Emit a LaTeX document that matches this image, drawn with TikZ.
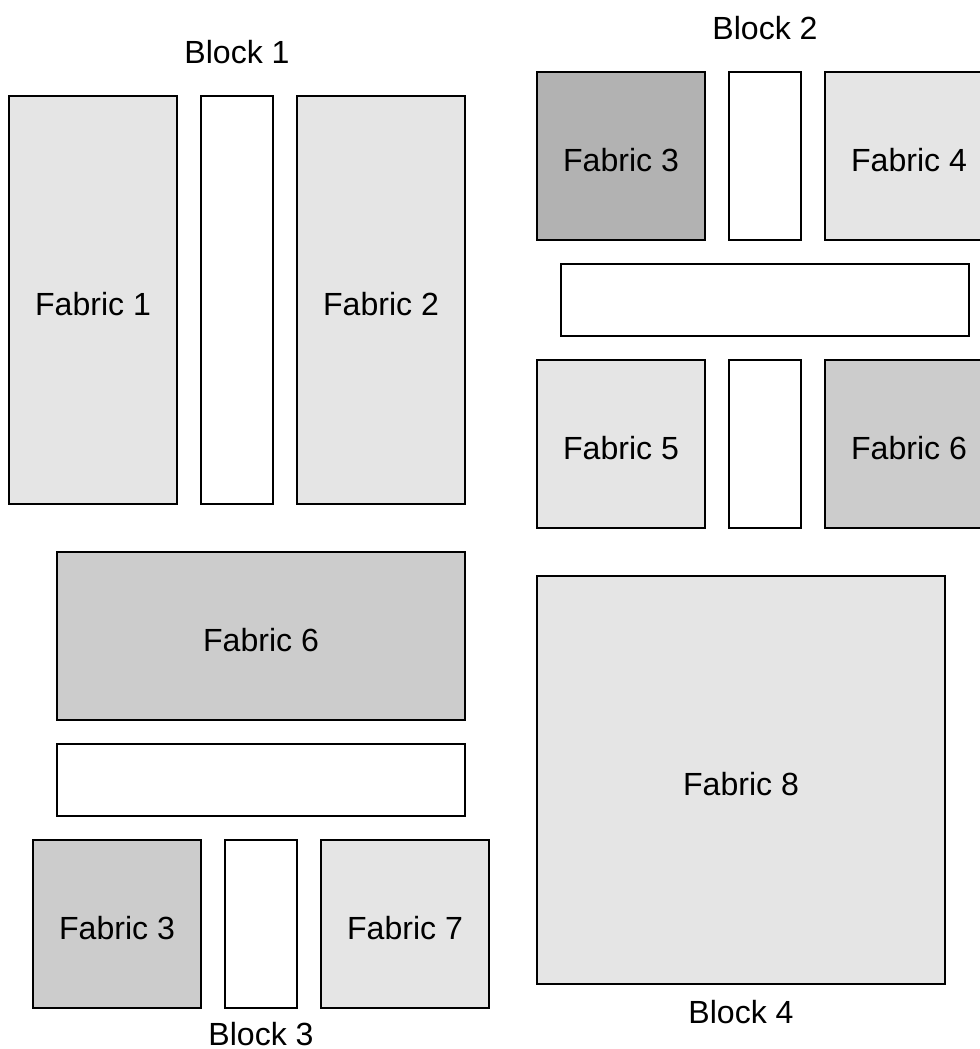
\documentclass[tikz,border=0pt]{standalone}
\usepackage{fontspec}
\setmainfont{Liberation Sans}
\definecolor{lightfab}{gray}{0.9}
\definecolor{midfab}{gray}{0.8}
\definecolor{darkfab}{gray}{0.7}
\begin{document}
\begin{tikzpicture}[y=-1cm,
  piece/.style={draw=black, line width=1.8pt},
  lbl/.style={font=\fontsize{38}{44}\selectfont}]
\useasboundingbox (0,0) rectangle (40.833,43.708);
\clip (0,0) rectangle (40.833,43.708);
% block 1
\draw [piece, fill=lightfab] (0.375,4) rectangle (7.375,21);
\draw [piece, fill=white] (8.375,4) rectangle (11.375,21);
\draw [piece, fill=lightfab] (12.375,4) rectangle (19.375,21);
\node [lbl] (b1) at (9.875,2.15) {Block 1};
\node [lbl] (f1) at (3.875,12.65) {Fabric 1};
\node [lbl] (f2) at (15.875,12.65) {Fabric 2};
% block 2
\draw [piece, fill=darkfab] (22.375,3) rectangle (29.375,10);
\draw [piece, fill=white] (30.375,3) rectangle (33.375,10);
\draw [piece, fill=lightfab] (34.375,3) rectangle (41.375,10);
\draw [piece, fill=white] (23.375,11) rectangle (40.375,14);
\draw [piece, fill=lightfab] (22.375,15) rectangle (29.375,22);
\draw [piece, fill=white] (30.375,15) rectangle (33.375,22);
\draw [piece, fill=midfab] (34.375,15) rectangle (41.375,22);
\node [lbl] (b2) at (31.875,1.15) {Block 2};
\node [lbl] (f3a) at (25.875,6.65) {Fabric 3};
\node [lbl] (f4) at (37.875,6.65) {Fabric 4};
\node [lbl] (f5) at (25.875,18.65) {Fabric 5};
\node [lbl] (f6a) at (37.875,18.65) {Fabric 6};
% block 3
\draw [piece, fill=midfab] (2.375,23) rectangle (19.375,30);
\draw [piece, fill=white] (2.375,31) rectangle (19.375,34);
\draw [piece, fill=midfab] (1.375,35) rectangle (8.375,42);
\draw [piece, fill=white] (9.375,35) rectangle (12.375,42);
\draw [piece, fill=lightfab] (13.375,35) rectangle (20.375,42);
\node [lbl] (f6b) at (10.875,26.65) {Fabric 6};
\node [lbl] (f3b) at (4.875,38.65) {Fabric 3};
\node [lbl] (f7) at (16.875,38.65) {Fabric 7};
\node [lbl] (b3) at (10.875,43.1) {Block 3};
% block 4
\draw [piece, fill=lightfab] (22.375,24) rectangle (39.375,41);
\node [lbl] (f8) at (30.875,32.65) {Fabric 8};
\node [lbl] (b4) at (30.875,42.15) {Block 4};
\end{tikzpicture}
\end{document}
